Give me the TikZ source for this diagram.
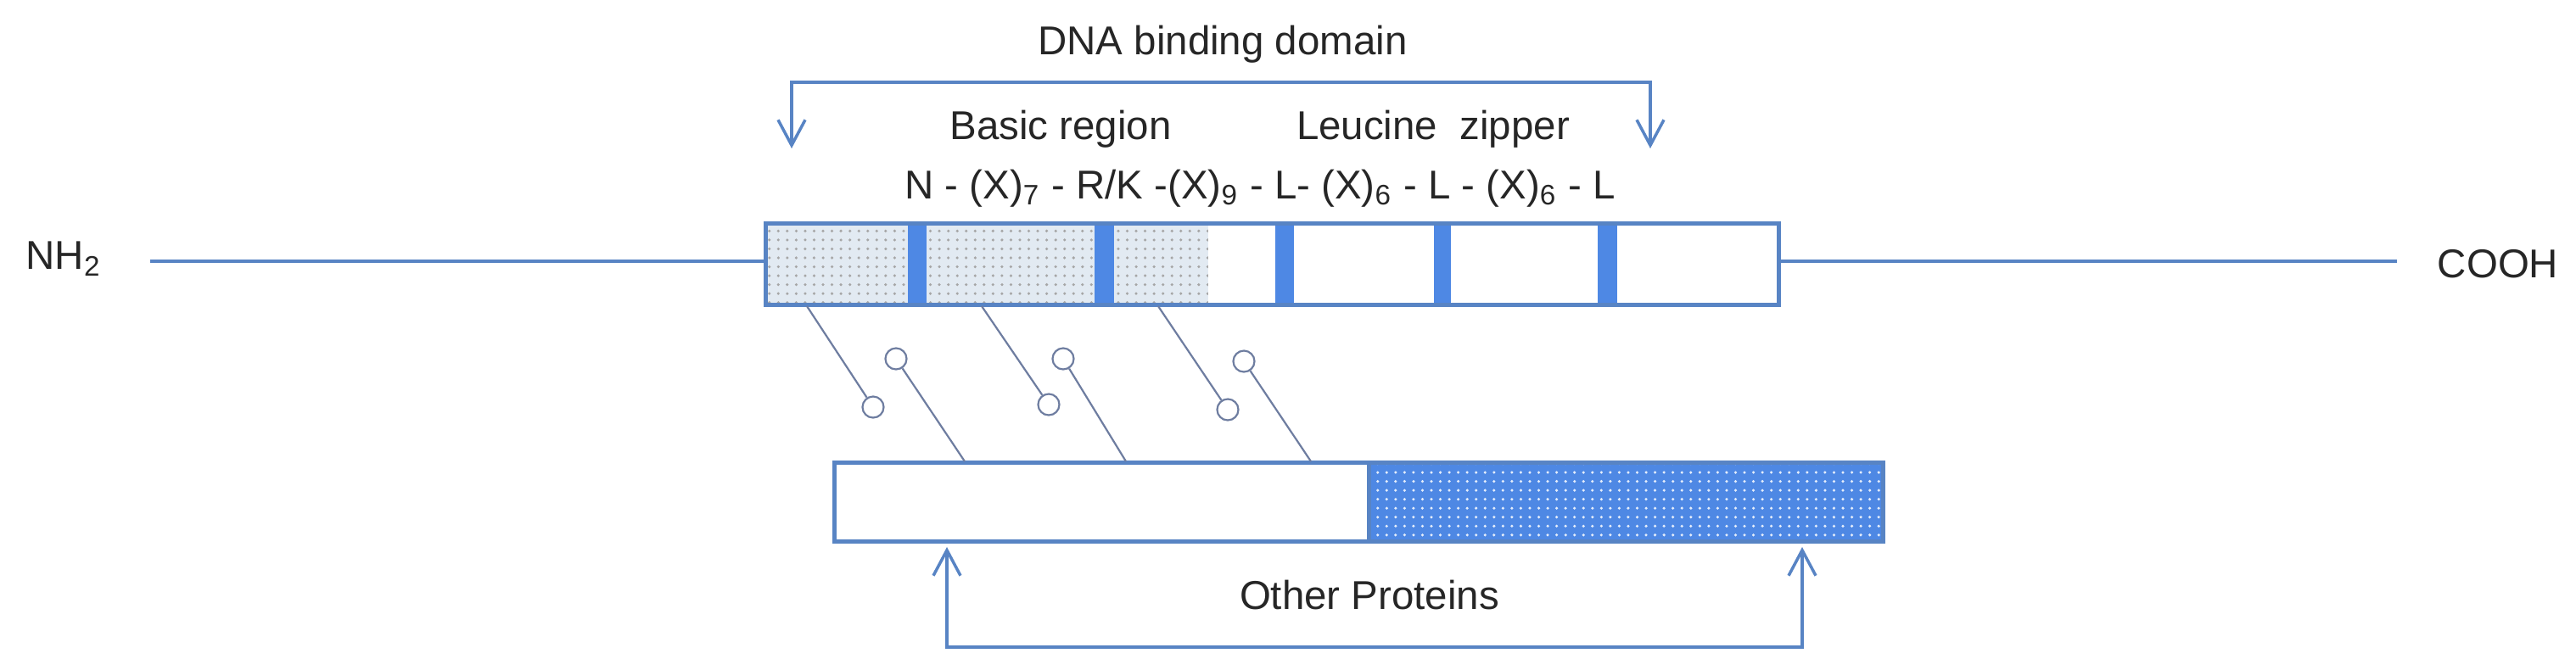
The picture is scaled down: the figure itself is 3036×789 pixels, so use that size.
\documentclass[tikz,border=0pt]{standalone}
\usepackage{fontspec}
\setmainfont{Liberation Sans}
\usetikzlibrary{arrows.meta,patterns}
\definecolor{lineblue}{RGB}{88,132,196}
\definecolor{fillblue}{RGB}{78,136,228}
\definecolor{stick}{RGB}{110,125,160}
\definecolor{dotbg}{RGB}{226,234,242}
\begin{document}
\begin{tikzpicture}[x=0.1mm,y=-0.1mm,
  lbl/.style={font=\fontsize{13.5}{16}\selectfont,text=black!85,inner sep=0pt},
  ln/.style={draw=lineblue,line width=0.4mm},
  brk/.style={draw=lineblue,line width=0.35mm,-{Straight Barb[length=3mm,width=3.2mm]}},
  div/.style={fill=fillblue,draw=none},
  lol/.style={circle,draw=stick,line width=0.22mm,minimum size=2.5mm,inner sep=0pt},
  stk/.style={draw=stick,line width=0.22mm}]
\useasboundingbox (0,0) rectangle (3036,789);
% main chain
\coordinate (nl) at (177,308);
\coordinate (nr) at (2825,308);
\coordinate (bl) at (902,308);
\coordinate (br) at (2096,308);
\draw[ln] (nl) -- (bl);
\draw[ln] (br) -- (nr);
\node[lbl] (nh2) at (75,305) {NH\textsubscript{2}};
\node[lbl] (cooh) at (2944,311) {COOH};
% upper bar
\fill[dotbg] (902,263) rectangle (1424,359);
\fill[pattern=dots,pattern color=gray!70] (902,263) rectangle (1424,359);
\fill[white] (1424,263) rectangle (2096,359);
\fill[div] (1070,263) rectangle (1092,359);
\fill[div] (1290,263) rectangle (1313,359);
\fill[div] (1503,263) rectangle (1525,359);
\fill[div] (1690,263) rectangle (1710,359);
\fill[div] (1883,263) rectangle (1906,359);
\draw[lineblue,line width=0.5mm] (902,263) rectangle (2096,359);
% lower bar
\fill[fillblue] (1613,545) rectangle (2219,638);
\fill[pattern=dots,pattern color=white!85!fillblue] (1613,545) rectangle (2219,638);
\draw[lineblue,line width=0.5mm] (983,545) rectangle (2219,638);
\draw[lineblue,line width=0.5mm] (1613,545) -- (1613,638);
% lollipops
\foreach \i/\ta/\ca/\cb/\bb in {1/951/1029:480/1056:423/1137, 2/1157/1236:477/1253:423/1327, 3/1365/1447:483/1466:426/1545}{
  \coordinate (t\i) at (\ta,361);
  \coordinate (b\i) at (\bb,544);
}
\node[lol] (c1a) at (1029,480) {}; \node[lol] (c1b) at (1056,423) {};
\node[lol] (c2a) at (1236,477) {}; \node[lol] (c2b) at (1253,423) {};
\node[lol] (c3a) at (1447,483) {}; \node[lol] (c3b) at (1466,426) {};
\draw[stk] (t1) -- (c1a); \draw[stk] (b1) -- (c1b);
\draw[stk] (t2) -- (c2a); \draw[stk] (b2) -- (c2b);
\draw[stk] (t3) -- (c3a); \draw[stk] (b3) -- (c3b);
% top bracket
\coordinate (ua) at (933,175);
\coordinate (ub) at (1945,175);
\draw[brk] (ub|-0,97) -| (ua);
\draw[brk] (ua|-0,97) -| (ub);
\node[lbl] (dna) at (1441,52) {DNA binding domain};
\node[lbl] (basic) at (1250,152) {Basic region};
\node[lbl] (leu) at (1689,152) {Leucine\ \ zipper};
\node[lbl] (seq) at (1485,222) {N - (X)\textsubscript{7} - R/K -(X)\textsubscript{9} - L- (X)\textsubscript{6} - L - (X)\textsubscript{6} - L};
% bottom bracket
\coordinate (la) at (1116,645);
\coordinate (lb) at (2124,645);
\draw[brk] (lb|-0,763) -| (la);
\draw[brk] (la|-0,763) -| (lb);
\node[lbl] (other) at (1614,702) {Other Proteins};
\end{tikzpicture}
\end{document}
